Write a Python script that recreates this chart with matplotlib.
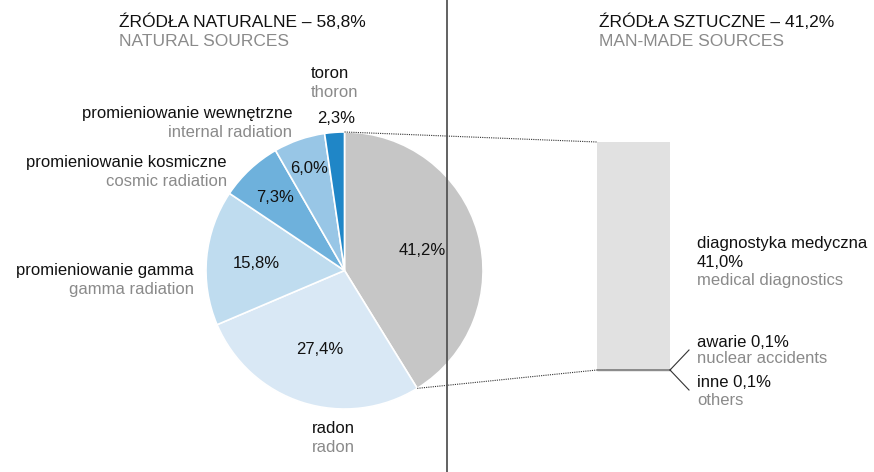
import matplotlib.pyplot as plt
import numpy as np

plt.rcParams['font.family'] = ['Liberation Sans', 'DejaVu Sans']

# dane: źródła naturalne i sztuczne (%)
natural_pl = ['sztuczne', 'radon', 'promieniowanie gamma', 'promieniowanie kosmiczne',
              'promieniowanie wewnętrzne', 'toron']
pie_values = [41.2, 27.4, 15.8, 7.3, 6.0, 2.3]
pie_labels = ['41,2%', '27,4%', '15,8%', '7,3%', '6,0%', '2,3%']
pie_colors = ['#c6c6c6', '#d9e8f5', '#bfdcef', '#6eb1dc', '#98c6e6', '#1f86c7']

manmade_values = [0.1, 0.1, 41.0]   # inne, awarie, diagnostyka
manmade_colors = ['#8c8c8c', '#8c8c8c', '#e1e1e1']

BLACK = '#111111'
GREY = '#8a8a8a'
FS = 12

fig = plt.figure(figsize=(8.74, 4.72), dpi=100)
ax = fig.add_axes([0, 0, 1, 1])

cx, cy, R = 344.5, 270.5, 138.5
wedges, _ = ax.pie(pie_values, colors=pie_colors, startangle=-90, counterclock=True,
                   center=(cx, cy), radius=R, explode=[0.025, 0, 0, 0, 0, 0],
                   wedgeprops=dict(edgecolor='white', linewidth=1.2))
ax.set_xlim(0, 874)
ax.set_ylim(472, 0)
ax.set_aspect('equal')
ax.axis('off')

# procenty w wycinkach (y + 6 -> linia bazowa pod środkiem cyfr)
dists = [0.58, 0.59, 0.64, 0.74, 0.79]
for w, lab, d in zip(wedges[:5], pie_labels[:5], dists):
    a = np.deg2rad((w.theta1 + w.theta2) / 2)
    x0, y0 = w.center
    ax.text(x0 + d * R * np.cos(a), y0 + d * R * np.sin(a) + 6, lab, fontsize=FS,
            color=BLACK, ha='center', va='baseline')
ax.text(317, 123, pie_labels[5], fontsize=FS, color=BLACK, ha='left', va='baseline')

# słupek źródeł sztucznych
bar_x, bar_w, bar_bottom = 633.5, 73, 370
scale = 228 / sum(manmade_values)
bottom = bar_bottom
for v, c in zip(manmade_values, manmade_colors):
    h = -v * scale
    ax.bar(bar_x, h, width=bar_w, bottom=bottom, color=c,
           edgecolor=c if c != '#e1e1e1' else 'none', linewidth=1)
    bottom += h
bar_top = bottom

# linie przerywane od wycinka do słupka
g = wedges[0]
gx, gy = g.center
t1, t2 = np.deg2rad(g.theta1), np.deg2rad(g.theta2)
ax.plot([gx + R * np.cos(t1), bar_x - bar_w / 2], [gy + R * np.sin(t1), bar_top],
        ls=(0, (1, 1)), color='#333333', lw=0.8)
ax.plot([gx + R * np.cos(t2), bar_x - bar_w / 2], [gy + R * np.sin(t2), bar_bottom],
        ls=(0, (1, 1)), color='#333333', lw=0.8)

# linie do etykiet awarie / inne
xr = bar_x + bar_w / 2
ax.plot([xr, xr + 19], [bar_bottom, bar_bottom - 20], color='#333333', lw=0.8)
ax.plot([xr, xr + 19], [bar_bottom, bar_bottom + 20], color='#333333', lw=0.8)

# pionowa linia podziału
ax.axvline(447, color='#555555', lw=1.3)

def label(x, y, pl, en, ha='left', gap=19, size=FS):
    ax.text(x, y, pl, fontsize=size, color=BLACK, ha=ha, va='baseline')
    ax.text(x, y + gap, en, fontsize=size, color=GREY, ha=ha, va='baseline')

label(119, 27, 'ŹRÓDŁA NATURALNE – 58,8%', 'NATURAL SOURCES', size=12.5)
label(599, 27, 'ŹRÓDŁA SZTUCZNE – 41,2%', 'MAN-MADE SOURCES', size=12.5)

label(311, 78, 'toron', 'thoron')
label(292, 118, 'promieniowanie wewnętrzne', 'internal radiation', ha='right')
label(227, 167, 'promieniowanie kosmiczne', 'cosmic radiation', ha='right')
label(194, 275, 'promieniowanie gamma', 'gamma radiation', ha='right')
label(312, 433, 'radon', 'radon')

ax.text(697, 248, 'diagnostyka medyczna', fontsize=FS, color=BLACK, va='baseline')
ax.text(697, 267, '41,0%', fontsize=FS, color=BLACK, va='baseline')
ax.text(697, 285, 'medical diagnostics', fontsize=FS, color=GREY, va='baseline')
label(697, 347, 'awarie 0,1%', 'nuclear accidents', gap=16)
label(697, 387, 'inne 0,1%', 'others', gap=18)

fig.savefig('out.png', dpi=100)
